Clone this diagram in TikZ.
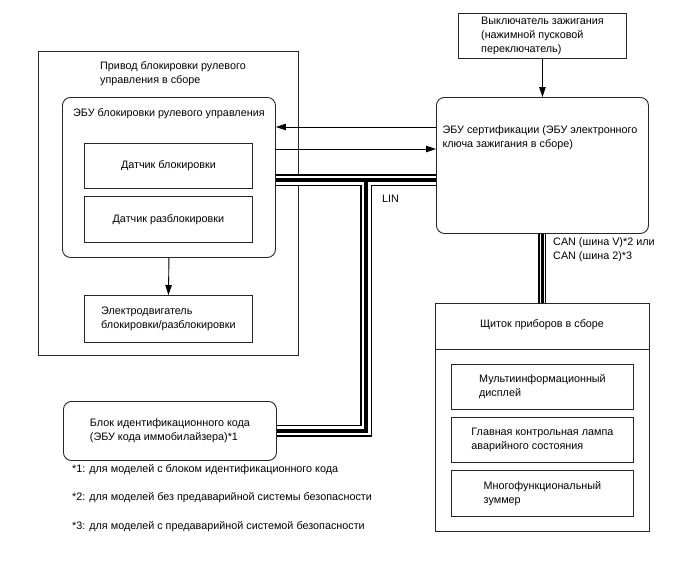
\documentclass[tikz,border=0pt]{standalone}
\usepackage{fontspec}
\setmainfont{Liberation Sans}
\usetikzlibrary{positioning,calc}
\usetikzlibrary{arrows.meta}
\tikzset{
	blk/.style={draw=black!85,line width=0.9pt,anchor=north west,inner sep=0pt,align=left,
		font=\fontsize{10.8}{14}\selectfont},
	rblk/.style={blk,rounded corners=8pt},
	lbl/.style={inner sep=0pt,align=left,font=\fontsize{10.8}{14}\selectfont},
	sig/.style={draw=black,line width=0.9pt,-{Triangle[length=10pt,width=6.5pt]}},
}

\begin{document}
\begin{tikzpicture}[x=1pt,y=-1pt]
			\useasboundingbox (0,0) rectangle (688,560);
			\coordinate (s1) at (0,127);
			\coordinate (s2) at (0,149);
			\coordinate (lb) at (0,180);
			\coordinate (lx) at (366,0);
			\coordinate (dv) at (0,349);
			\node[blk,minimum width=260pt,minimum height=304pt] (assy) at (38,51) {};
			\node[lbl,anchor=west] (assyt) at (100,74) {Привод блокировки рулевого\\управления в сборе};
			\node[rblk,minimum width=213pt,minimum height=160pt] (ecu) at (62,97) {};
			\node[lbl,anchor=west] (ecut) at (73,114) {ЭБУ блокировки рулевого управления};
			\node[blk,minimum width=168pt,minimum height=45pt] (lock) at (84,143) {Датчик блокировки};
			\node[blk,minimum width=168pt,minimum height=46pt] (unlock) at (84,196) {Датчик разблокировки};
			\node[blk,minimum width=168pt,minimum height=47pt] (motor) at (84,295) {Электродвигатель\\блокировки/разблокировки};
			\node[blk,minimum width=168pt,minimum height=45pt] (ign) at (458,13) {Выключатель зажигания\\(нажимной пусковой\\переключатель)};
			\node[rblk,minimum width=212pt,minimum height=136pt] (cert) at (436,97) {};
			\node[lbl] (certt) at (540,138) {ЭБУ сертификации (ЭБУ электронного\\ключа зажигания в сборе)};
			\node[rblk,minimum width=213pt,minimum height=59pt] (imm) at (63,401) {Блок идентификационного кода\\(ЭБУ кода иммобилайзера)*1};
			\node[blk,minimum width=214pt,minimum height=228pt] (cluster) at (435,303) {};
			\node[lbl] (clustert) at (542,325) {Щиток приборов в сборе};
			\draw[draw=black!85,line width=0.9pt] (cluster.west |- dv) -- (cluster.east |- dv);
			\node[blk,minimum width=182pt,minimum height=45pt] (mid) at (451,364) {Мультиинформационный\\дисплей};
			\node[blk,minimum width=182pt,minimum height=45pt] (lamp) at (451,417) {Главная контрольная лампа\\аварийного состояния};
			\node[blk,minimum width=182pt,minimum height=46pt] (buzz) at (451,470) {Многофункциональный\\зуммер};
			\draw[sig] (ign.south) -- (cert.north);
			\draw[sig] (cert.west |- s1) -- (ecu.east |- s1);
			\draw[sig] (ecu.east |- s2) -- (cert.west |- s2);
			\draw[sig] (ecu.south) -- (motor.north);
			\foreach \bw/\bc in {12pt/black,9pt/white,4pt/black}
				\draw[line width=\bw,\bc] (ecu.east |- lb) -- (cert.west |- lb)
					(lx |- lb) -- (lx |- imm.east) -- (imm.east);
			\foreach \bw/\bc in {8pt/black,5.5pt/white,2.3pt/black}
				\draw[line width=\bw,\bc] (cert.south) -- (cluster.north);
			\node[lbl,anchor=west] (lin) at (382,199) {LIN};
			\node[lbl,anchor=west] (can) at (553,250) {CAN (шина V)*2 или\\CAN (шина 2)*3};
			\node[lbl,anchor=west] (fn1) at (72,470) {*1: для моделей с блоком идентификационного кода};
			\node[lbl,anchor=west] (fn2) at (72,498) {*2: для моделей без предаварийной системы безопасности};
			\node[lbl,anchor=west] (fn3) at (72,527) {*3: для моделей с предаварийной системой безопасности};
		\end{tikzpicture}
\end{document}
